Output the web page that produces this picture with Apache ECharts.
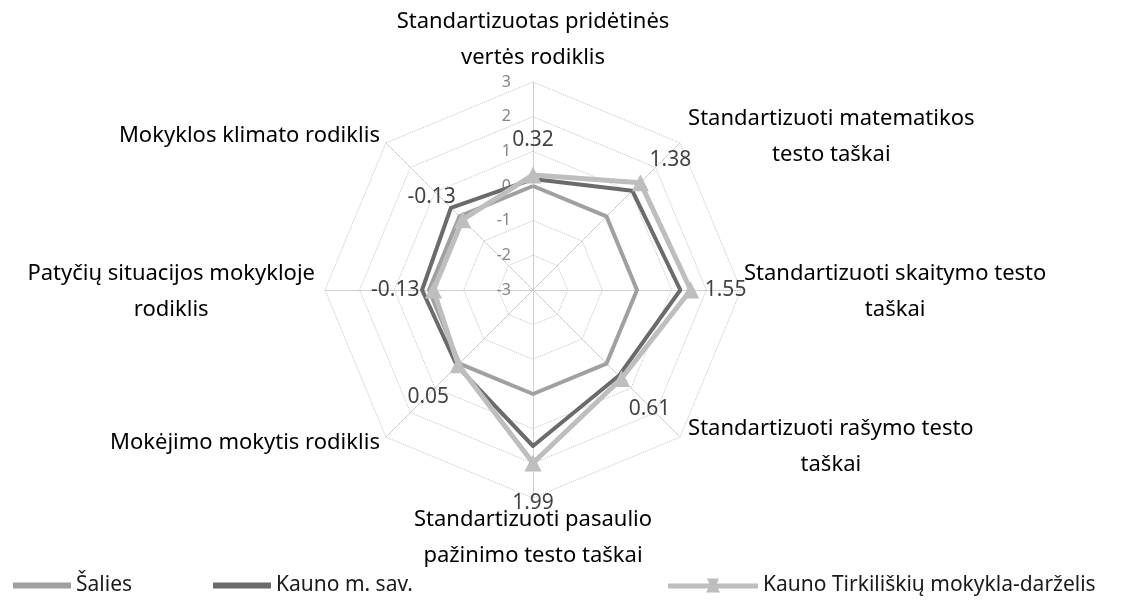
<!DOCTYPE html>
<html><head><meta charset="utf-8">
<script src="https://cdn.jsdelivr.net/npm/echarts@6/dist/echarts.min.js"></script>
<style>html,body{margin:0;padding:0;background:#fff}#c{width:1133px;height:601px}</style>
</head><body><div id="c"></div>
<script>
// Indicators in clockwise order starting at the top
const indicatorNames = [
  'Standartizuotas pridėtinės\nvertės rodiklis',
  'Standartizuoti matematikos\ntesto taškai',
  'Standartizuoti skaitymo testo\ntaškai',
  'Standartizuoti rašymo testo\ntaškai',
  'Standartizuoti pasaulio\npažinimo testo taškai',
  'Mokėjimo mokytis rodiklis',
  'Patyčių situacijos mokykloje\nrodiklis',
  'Mokyklos klimato rodiklis'
];
const seriesNames = ['Šalies', 'Kauno m. sav.', 'Kauno Tirkiliškių mokykla-darželis'];
const saliesValues = [0, 0, 0, 0, 0, 0, 0, 0];
const kaunoValues = [0.2, 1.05, 1.25, 0.5, 1.5, 0.1, 0.2, 0.35];
const tirkValues = [0.32, 1.38, 1.55, 0.61, 1.99, 0.05, -0.13, -0.13];
const tickLabels = ['-3', '-2', '-1', '0', '1', '2', '3'];
const axisMin = -3, axisMax = 3;

const n = indicatorNames.length;
// ECharts radar goes counter-clockwise: reorder
const ccw = Array.from({length: n}, (_, j) => (n - j) % n);
const reorder = arr => ccw.map(i => arr[i]);

const CENTER = [533, 290], RADIUS = 208;
const FONT = 'Noto Sans';

// data label placement (style only)
const labelPos = ['top', 'top', 'right', 'bottom', 'bottom', 'bottom', 'left', 'top'];
const labelDist = [24, 12, 14, 20, 30, 22, 14, 12];
const labelOff = [[0, 0], [30, 0], [0, 0], [28, 0], [0, 0], [-30, 0], [0, 0], [-31, 0]];
// category name placement (style only)
const namePos = ['top', 'right', 'right', 'right', 'bottom', 'left', 'left', 'left'];
const nameDist = [6, 8, 3, 8, 4, 6, 10, 6];
const nameOff = [[0, 0], [0, -6], [0, 2], [0, 10], [0, 0], [0, 6], [0, 2], [0, -7]];

const chart = echarts.init(document.getElementById('c'));
const barIcon = 'path://M0,0H58V6H0Z';
const triIcon = 'path://M0,5H90V10H0Z M39,0L51,0L45,14Z M45,1L52,14L38,14Z';
const legendCommon = {
  top: 570, itemWidth: 58, itemHeight: 6, selectedMode: false, itemGap: 4,
  textStyle: {fontFamily: FONT, fontSize: 21, color: '#1a1a1a'}
};
chart.setOption({
  backgroundColor: '#fff',
  animation: false,
  legend: [
    Object.assign({}, legendCommon, {left: 8, data: [{name: seriesNames[0], icon: barIcon}]}),
    Object.assign({}, legendCommon, {left: 208, data: [{name: seriesNames[1], icon: barIcon}]}),
    Object.assign({}, legendCommon, {left: 663, itemWidth: 90, itemHeight: 14, data: [{name: seriesNames[2], icon: triIcon}]})
  ],
  radar: {
    center: CENTER, radius: RADIUS, startAngle: 90, shape: 'polygon', splitNumber: 6,
    indicator: reorder(indicatorNames).map(name => ({name, min: axisMin, max: axisMax})),
    axisName: {show: false},
    splitLine: {lineStyle: {color: '#c4c4c4', type: 'dotted', width: 1}},
    splitArea: {show: false},
    axisLine: {lineStyle: {color: '#c4c4c4', type: 'dotted', width: 1}},
    axisTick: {show: false},
    axisLabel: {show: false}
  },
  polar: {center: CENTER, radius: RADIUS},
  angleAxis: {type: 'value', min: 0, max: 360, startAngle: 90, clockwise: true, show: false},
  radiusAxis: {
    type: 'value', min: axisMin, max: axisMax, interval: 1, z: 0,
    axisLine: {show: false}, axisTick: {show: false}, splitLine: {show: false},
    axisLabel: {color: '#858585', fontSize: 16, fontFamily: FONT, margin: 22,
      formatter: v => tickLabels[Math.round(v - axisMin)]}
  },
  series: [
    {
      type: 'radar', z: 2, symbol: 'none',
      data: [
        {name: seriesNames[0], value: reorder(saliesValues),
          lineStyle: {color: '#a0a0a0', width: 4}, itemStyle: {color: '#a0a0a0'}},
        {name: seriesNames[1], value: reorder(kaunoValues),
          lineStyle: {color: '#6b6b6b', width: 4}, itemStyle: {color: '#6b6b6b'}},
        {name: seriesNames[2], value: reorder(tirkValues), symbol: 'triangle', symbolSize: 17,
          lineStyle: {color: '#bebebe', width: 5}, itemStyle: {color: '#bebebe'}}
      ]
    },
    {
      type: 'scatter', coordinateSystem: 'polar', symbolSize: 0, silent: true, z: 5,
      data: tirkValues.map((v, i) => ({
        value: [v, i * 360 / n],
        label: {position: labelPos[i], distance: labelDist[i], offset: labelOff[i]}
      })),
      label: {show: true, color: '#111', fontSize: 21, fontFamily: FONT,
        formatter: p => String(p.value[0])}
    },
    {
      type: 'scatter', coordinateSystem: 'polar', symbolSize: 0, silent: true, z: 5,
      data: indicatorNames.map((nm, i) => ({
        value: [axisMax, i * 360 / n],
        label: {position: namePos[i], distance: nameDist[i], offset: nameOff[i]}
      })),
      label: {show: true, color: '#000', fontSize: 22, fontFamily: FONT, lineHeight: 36, opacity: 1,
        formatter: p => indicatorNames[p.dataIndex].split('\n').map(s => '{c|' + s + '}').join('\n'),
        rich: {c: {align: 'center', fontSize: 22, fontFamily: FONT, color: '#000', lineHeight: 36, opacity: 1}}}
    }
  ]
});
</script></body></html>
